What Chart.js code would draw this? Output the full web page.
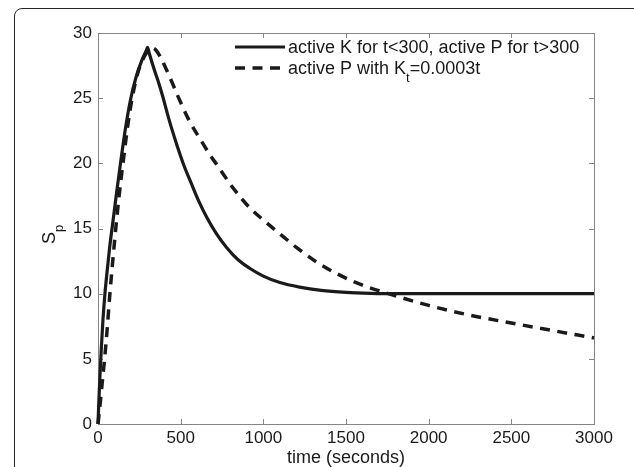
<!DOCTYPE html>
<html>
<head>
<meta charset="utf-8">
<title>S_p time course</title>
<script src="https://cdn.jsdelivr.net/npm/chart.js@4.4.1/dist/chart.umd.min.js"></script>
<style>
  html, body { margin: 0; padding: 0; background: #fff; overflow: hidden; }
  #wrap { position: relative; width: 634px; height: 467px; overflow: hidden; }
  /* figure panel border, open to the right and bottom */
  #frame {
    position: absolute; left: 14px; top: 8px; width: 680px; height: 520px;
    border: 1px solid #262626; border-top-left-radius: 8px; box-sizing: border-box;
  }
  canvas { position: absolute; left: 0; top: 0; }
</style>
</head>
<body>
<div id="wrap">
  <div id="frame"></div>
  <canvas id="spChart" width="634" height="467"></canvas>
</div>
<script>
// ---------------------------------------------------------------
// data: S_p against time, two scenarios
// ---------------------------------------------------------------
var timeSolid = [0, 5, 10, 20, 30, 42, 55, 70, 90, 113, 135, 165, 197, 230, 265, 290, 300,
                 310, 340, 364, 390, 420, 445, 480, 521, 560, 606, 660, 716, 780, 847,
                 917, 1000, 1100, 1219, 1350, 1500, 1650, 1800, 2000, 2500, 3000];
var spSolid   = [0, 1.7, 3.2, 5.8, 8.0, 10.0, 11.7, 13.5, 15.5, 17.8, 19.9, 22.6, 24.9, 26.6, 27.9, 28.6, 28.9,
                 28.45, 27.2, 26.3, 25.2, 23.8, 22.7, 21.3, 19.8, 18.6, 17.2, 15.8, 14.6, 13.5, 12.6,
                 11.95, 11.35, 10.85, 10.5, 10.25, 10.1, 10.03, 10.0, 10.0, 10.0, 10.0];

var timeDashed = [0, 15, 25, 40, 55, 72, 100, 125, 153, 180, 205, 240, 280, 310, 330,
                  350, 380, 410, 445, 485, 551, 616, 680, 727, 800, 868, 917, 1000, 1099,
                  1200, 1320, 1450, 1600, 1770, 2000, 2250, 2500, 2750, 3000];
var spDashed   = [0, 1.8, 3.1, 5.0, 7.2, 10.0, 14.0, 17.2, 20.2, 22.9, 24.9, 26.9, 28.2, 28.7, 28.85,
                  28.7, 28.1, 27.3, 26.3, 25.1, 23.3, 21.9, 20.6, 19.75, 18.4, 17.3, 16.6, 15.65, 14.6,
                  13.55, 12.45, 11.5, 10.65, 9.95, 9.1, 8.35, 7.75, 7.17, 6.6];

var xTickValues = [0, 500, 1000, 1500, 2000, 2500, 3000];
var yTickValues = [0, 5, 10, 15, 20, 25, 30];

var seriesLabels = ['active K for t<300, active P for t>300', 'active P with K_t=0.0003t'];

var INK = '#1a1a1a';
var AXIS = '#858585';
var FONT = "'Liberation Sans', Arial, Helvetica, sans-serif";

function toPoints(ts, vs) {
    return ts.map(function (t, i) { return { x: t, y: vs[i] }; });
}

// draw a string where "_x" means subscript x
function drawRich(ctx, text, x, y, size) {
    var parts = text.split(/_(\w)/);
    for (var i = 0; i < parts.length; i++) {
        var sub = (i % 2 === 1);
        ctx.font = (sub ? Math.round(size * 0.72) : size) + 'px ' + FONT;
        ctx.fillText(parts[i], x, sub ? y + size * 0.42 : y);
        x += ctx.measureText(parts[i]).width;
    }
}

// box around the plot with inward tick marks on all four sides
var axesBox = {
    id: 'axesBox',
    beforeDatasetsDraw: function (chart) {
        var a = chart.chartArea, ctx = chart.ctx;
        var xs = chart.scales.x, ys = chart.scales.y;
        ctx.save();
        ctx.strokeStyle = AXIS;
        ctx.lineWidth = 1;
        ctx.strokeRect(a.left + 0.5, a.top + 0.5, a.right - a.left, a.bottom - a.top);
        ctx.beginPath();
        xTickValues.forEach(function (v) {
            var px = Math.round(xs.getPixelForValue(v)) + 0.5;
            ctx.moveTo(px, a.bottom); ctx.lineTo(px, a.bottom - 5);
            ctx.moveTo(px, a.top); ctx.lineTo(px, a.top + 5);
        });
        yTickValues.forEach(function (v) {
            var py = Math.round(ys.getPixelForValue(v)) + 0.5;
            ctx.moveTo(a.left, py); ctx.lineTo(a.left + 5, py);
            ctx.moveTo(a.right, py); ctx.lineTo(a.right - 5, py);
        });
        ctx.stroke();
        ctx.restore();
    }
};

// legend in the upper right and the rotated S_p axis title
var annotations = {
    id: 'annotations',
    afterDraw: function (chart) {
        var ctx = chart.ctx, a = chart.chartArea;
        ctx.save();
        var x0 = a.left + 137;
        var rows = [a.top + 14, a.top + 35];
        chart.data.datasets.forEach(function (ds, i) {
            var y = rows[i];
            ctx.strokeStyle = ds.borderColor;
            ctx.lineWidth = ds.borderWidth;
            ctx.setLineDash(ds.borderDash || []);
            ctx.beginPath();
            ctx.moveTo(x0, y);
            ctx.lineTo(x0 + 50, y);
            ctx.stroke();
            ctx.setLineDash([]);
            ctx.fillStyle = INK;
            ctx.textBaseline = 'alphabetic';
            drawRich(ctx, ds.label, x0 + 53, y + 6, 18);
        });

        ctx.translate(55, 244);
        ctx.rotate(-Math.PI / 2);
        ctx.fillStyle = INK;
        ctx.textBaseline = 'alphabetic';
        drawRich(ctx, 'S_p', 0, 0, 18);
        ctx.restore();
    }
};

var ctx = document.getElementById('spChart').getContext('2d');
var spChart = new Chart(ctx, {
    type: 'line',
    data: {
        datasets: [{
            label: seriesLabels[0],
            data: toPoints(timeSolid, spSolid),
            borderColor: INK,
            borderWidth: 3.2,
            borderJoinStyle: 'round',
            cubicInterpolationMode: 'monotone',
            pointRadius: 0,
            fill: false,
            clip: false
        }, {
            label: seriesLabels[1],
            data: toPoints(timeDashed, spDashed),
            borderColor: INK,
            borderWidth: 3.5,
            borderDash: [10, 7.5],
            cubicInterpolationMode: 'monotone',
            pointRadius: 0,
            fill: false,
            clip: false
        }]
    },
    options: {
        responsive: false,
        animation: false,
        devicePixelRatio: 1,
        layout: { padding: { left: 0, right: 40, top: 33, bottom: 0 } },
        plugins: {
            legend: { display: false },
            tooltip: { enabled: false }
        },
        scales: {
            x: {
                type: 'linear',
                min: 0,
                max: 3000,
                grid: { display: false, drawTicks: false },
                border: { display: false },
                afterBuildTicks: function (s) {
                    s.ticks = xTickValues.map(function (v) { return { value: v }; });
                },
                afterFit: function (s) { s.height = 43; },
                ticks: {
                    color: INK,
                    font: { family: FONT, size: 17 },
                    padding: 4,
                    maxRotation: 0,
                    autoSkip: false,
                    callback: function (v) { return String(v); }
                },
                title: {
                    display: true,
                    text: 'time (seconds)',
                    color: INK,
                    font: { family: FONT, size: 18 },
                    padding: { top: 0, bottom: -2 }
                }
            },
            y: {
                type: 'linear',
                min: 0,
                max: 30,
                grid: { display: false, drawTicks: false },
                border: { display: false },
                afterBuildTicks: function (s) {
                    s.ticks = yTickValues.map(function (v) { return { value: v }; });
                },
                afterFit: function (s) { s.width = 98; },
                ticks: {
                    color: INK,
                    font: { family: FONT, size: 17 },
                    padding: 6,
                    autoSkip: false,
                    callback: function (v) { return String(v); }
                }
            }
        }
    },
    plugins: [axesBox, annotations]
});
</script>
</body>
</html>
